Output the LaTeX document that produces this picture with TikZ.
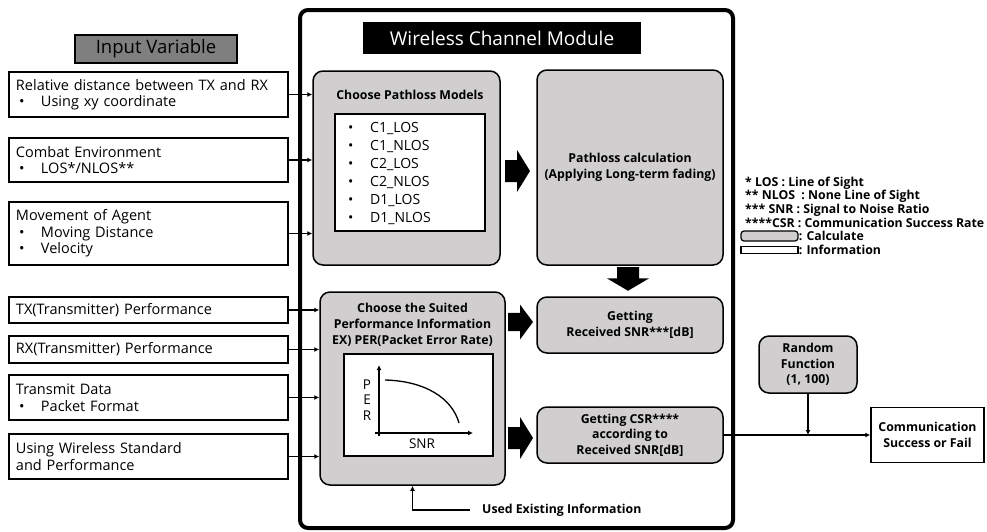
\documentclass[tikz,border=0pt]{standalone}
\usepackage{fontspec}
\setmainfont{Open Sans}
\usetikzlibrary{arrows.meta}
\definecolor{calcgray}{RGB}{208,206,206}
\definecolor{hdrgray}{RGB}{127,127,127}
\newcommand{\ibul}{\makebox[25pt][l]{\hspace{3pt}\textbullet}}
\tikzset{
  blk/.pic={\fill (0,-11) -- (12,-11) -- (12,-21) -- (25,0) -- (12,21) -- (12,11) -- (0,11) -- cycle;}
}
\begin{document}
\begin{tikzpicture}[
  x=1pt, y=-1pt,
  inbox/.style={draw, line width=1.5pt, fill=white, text width=265pt, inner xsep=7pt, inner ysep=0pt,
    align=left, font=\fontsize{14.5}{16.5}\selectfont},
  calc/.style={draw, line width=1.5pt, rounded corners=10pt, fill=calcgray, align=center,
    inner sep=0pt, font=\bfseries\fontsize{12.3}{15.5}\selectfont},
  info/.style={draw, line width=1.5pt, fill=white, inner sep=0pt},
  link/.style={line width=1.5pt, -{Latex[length=5pt,width=5pt]}},
  note/.style={font=\bfseries\fontsize{12.3}{13}\selectfont, inner sep=0pt, anchor=west}
]
\useasboundingbox (0,0) rectangle (987,531);
% ---------------- module frame ----------------
\node[draw, line width=4pt, rounded corners=8pt, minimum width=433pt, minimum height=518pt] (wcm) at (516.5,269) {};
\node[fill=black, text=white, minimum width=278pt, minimum height=32pt, inner sep=0pt,
      font=\fontsize{19}{21}\selectfont] (ttl) at (502,38) {Wireless Channel Module};
% ---------------- left: input variables ----------------
\node[draw, line width=1.5pt, fill=hdrgray, minimum width=162pt, minimum height=28pt, inner sep=0pt,
      font=\fontsize{18.5}{20}\selectfont] (ivar) at (156,49) {Input Variable};
\node[inbox, minimum height=45pt] (in1) at (148.5,94.5) {Relative distance between TX and RX\\\ibul Using xy coordinate};
\node[inbox, minimum height=44pt] (in2) at (148.5,160) {Combat Environment\\\ibul LOS*/NLOS**};
\node[inbox, minimum height=63pt] (in3) at (148.5,233.5) {Movement of Agent\\\ibul Moving Distance\\\ibul Velocity};
\node[inbox, minimum height=26pt] (in4) at (148.5,310) {TX(Transmitter) Performance};
\node[inbox, minimum height=27pt] (in5) at (148.5,349.5) {RX(Transmitter) Performance};
\node[inbox, minimum height=45pt] (in6) at (148.5,397.5) {Transmit Data\\\ibul Packet Format};
\node[inbox, minimum height=45pt] (in7) at (148.5,456.5) {Using Wireless Standard\\and Performance};
% ---------------- pathloss models ----------------
\node[calc, minimum width=187pt, minimum height=194pt] (plm) at (406.5,168) {};
\node[font=\bfseries\fontsize{12.3}{14}\selectfont] (plmt) at (410,95) {Choose Pathloss Models};
\node[info, minimum width=150pt, minimum height=117pt] (mods) at (410,172.5) {};
\foreach \m [count=\i] in {C1\_LOS, C1\_NLOS, C2\_LOS, C2\_NLOS, D1\_LOS, D1\_NLOS}
  \node[anchor=west, inner sep=0pt, font=\fontsize{14}{16}\selectfont] (m\i) at (345,110+18*\i) {\ibul\m};
\node[calc, minimum width=186pt, minimum height=195pt] (pcalc) at (630,167.5)
  {Pathloss calculation\\(Applying Long-term fading)};
% ---------------- performance information ----------------
\node[calc, minimum width=185pt, minimum height=193pt] (sel) at (412.5,388.5) {};
\node[align=center, font=\bfseries\fontsize{12.3}{16}\selectfont] (selt) at (412.5,325)
  {Choose the Suited\\Performance Information\\EX) PER(Packet Error Rate)};
\node[info, minimum width=149pt, minimum height=102pt] (plot) at (418.5,405) {};
\draw[line width=1.3pt, -{Latex[length=5pt,width=5pt]}] (379,436) -- (379,365);
\draw[line width=1.3pt, -{Latex[length=5pt,width=5pt]}] (375,433) -- (473,433);
\draw[line width=1.3pt] (385,380) .. controls (425,381) and (452,398) .. (459,423);
\node[align=center, inner sep=0pt, font=\fontsize{13.5}{15.5}\selectfont] (per) at (367,400) {P\\E\\R};
\node[font=\fontsize{13.5}{15}\selectfont] (snrl) at (422,444) {SNR};
\node[calc, minimum width=186pt, minimum height=56pt] (snr) at (630,325) {Getting\\Received SNR***[dB]};
\node[calc, minimum width=186pt, minimum height=56pt] (csr) at (630,435) {Getting CSR****\\according to\\Received SNR[dB]};
\node[anchor=west, inner xsep=12pt, font=\bfseries\fontsize{12.3}{14}\selectfont] (uei) at (470,510) {Used Existing Information};
% ---------------- block arrows ----------------
\pic at (505,171) {blk};
\pic[yscale=0.83] at (508,322) {blk};
\pic at (508,438) {blk};
\pic[rotate=-90, xscale=0.95] at (628,267) {blk};
% ---------------- output side ----------------
\node[calc, minimum width=98pt, minimum height=57pt] (rnd) at (808,364.5) {Random\\Function\\(1, 100)};
\node[info, minimum width=113pt, minimum height=55pt, align=center,
      font=\bfseries\fontsize{12.3}{16}\selectfont] (comm) at (927.5,435) {Communication\\Success or Fail};
\coordinate (jn) at (rnd.south |- csr.east);
% ---------------- connectors ----------------
\foreach \n in {in1,in2,in3}
  \draw[link] (\n.east) -- (\n.east -| plm.west);
\foreach \n in {in4,in5,in6,in7}
  \draw[link] (\n.east) -- (\n.east -| sel.west);
\draw[link] (uei.west) -| (sel.south);
\draw[link] (csr.east) -- (comm.west);
\draw[link] (rnd.south) -- (jn);
% ---------------- legend ----------------
\node[note] (n1) at (745,183) {* LOS : Line of Sight};
\node[note] (n2) at (745,196.5) {** NLOS~ : None Line of Sight};
\node[note] (n3) at (745,210) {*** SNR : Signal to Noise Ratio};
\node[note] (n4) at (745,223) {****CSR : Communication Success Rate};
\node[calc, rounded corners=3pt, line width=1.2pt, minimum width=57pt, minimum height=10pt] (lgc) at (769.5,236) {};
\node[note] (lgct) at (lgc.east) {: Calculate};
\node[info, line width=1.2pt, minimum width=57pt, minimum height=7pt] (lgi) at (769.5,250) {};
\node[note] (lgit) at (lgi.east) {: Information};
\end{tikzpicture}
\end{document}
